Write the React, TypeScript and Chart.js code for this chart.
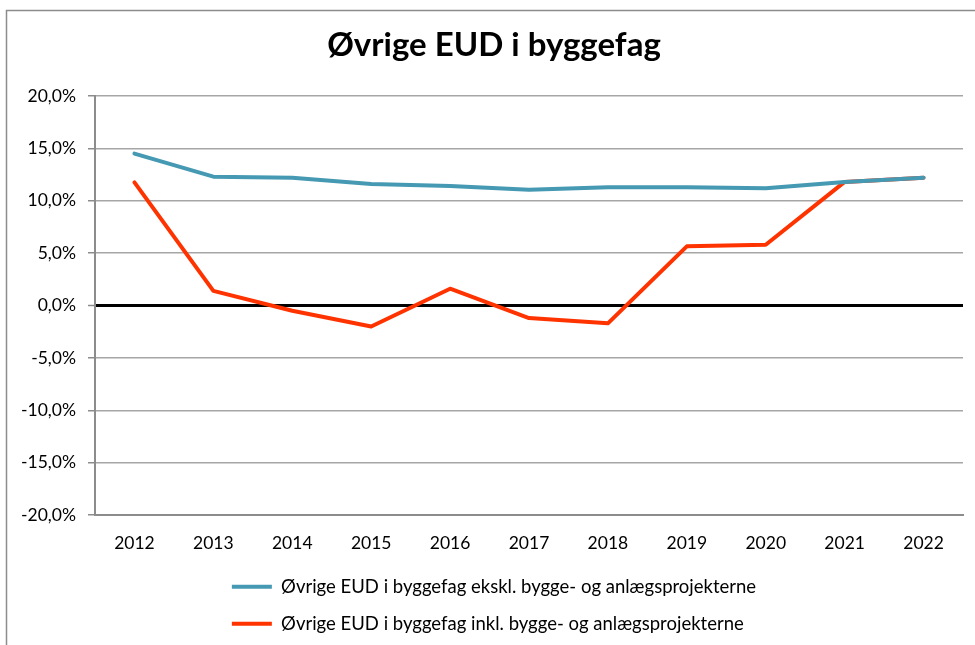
import React, { useEffect, useRef } from "react";
import { Chart, registerables } from "chart.js";

Chart.register(...registerables);

const chartTitle = "Øvrige EUD i byggefag";
const years = ["2012", "2013", "2014", "2015", "2016", "2017", "2018", "2019", "2020", "2021", "2022"];
const seriesNames = [
  "Øvrige EUD i byggefag ekskl. bygge- og anlægsprojekterne",
  "Øvrige EUD i byggefag inkl. bygge- og anlægsprojekterne",
];
const eksklValues = [14.5, 12.3, 12.2, 11.6, 11.4, 11.05, 11.3, 11.3, 11.2, 11.8, 12.2];
const inklValues = [11.75, 1.4, -0.5, -2.0, 1.6, -1.2, -1.7, 5.65, 5.8, 11.8, 12.2];
const yMin = -20;
const yMax = 20;
const yStep = 5;

const FONT = "Lato, 'Open Sans', sans-serif";

const framePlugin = {
  id: "frame",
  beforeDraw(chart: any) {
    const ctx = chart.ctx;
    ctx.save();
    ctx.fillStyle = "#ffffff";
    ctx.fillRect(0, 0, chart.width, chart.height);
    ctx.strokeStyle = "#8c8c8c";
    ctx.lineWidth = 1.5;
    ctx.strokeRect(6.5, 10.5, chart.width + 50, chart.height + 50);
    ctx.restore();
  },
};

// Centre title and legend over the plot like the reference, and left-align the legend rows
const shiftPlugin = {
  id: "shiftBlocks",
  afterLayout(chart: any) {
    if (chart.titleBlock) chart.titleBlock.left += 18;
    const lg = chart.legend;
    if (lg) {
      lg.left += 18;
      if (lg.lineWidths && lg.lineWidths.length > 1) {
        const w = Math.max(...lg.lineWidths);
        for (let i = 0; i < lg.lineWidths.length; i++) lg.lineWidths[i] = w;
      }
    }
  },
};

export default function App() {
  const canvasRef = useRef<HTMLCanvasElement | null>(null);

  useEffect(() => {
    if (!canvasRef.current) return;
    const chart = new Chart(canvasRef.current, {
      type: "line",
      data: {
        labels: years,
        datasets: [
          {
            label: seriesNames[0],
            data: eksklValues,
            borderColor: "#4599b2",
            backgroundColor: "#4599b2",
            borderWidth: 4,
            pointRadius: 0,
            tension: 0,
            borderCapStyle: "round",
            borderJoinStyle: "round",
          },
          {
            label: seriesNames[1],
            data: inklValues,
            borderColor: "#ff3300",
            backgroundColor: "#ff3300",
            borderWidth: 4,
            pointRadius: 0,
            tension: 0,
            borderCapStyle: "round",
            borderJoinStyle: "round",
          },
        ],
      },
      plugins: [framePlugin, shiftPlugin],
      options: {
        animation: false,
        responsive: false,
        maintainAspectRatio: false,
        devicePixelRatio: 1,
        layout: { padding: { left: 7, right: 12, top: 10, bottom: 2 } },
        plugins: {
          title: {
            display: true,
            text: chartTitle,
            color: "#000000",
            font: { family: FONT, size: 33, weight: "bold" },
            padding: { top: 16, bottom: 30.4 },
          },
          legend: {
            display: true,
            position: "bottom",
            labels: {
              color: "#000000",
              font: { family: FONT, size: 18.5 },
              usePointStyle: true,
              pointStyle: "line",
              pointStyleWidth: 40,
              padding: 18.5,
            },
          },
          tooltip: { enabled: false },
        },
        scales: {
          x: {
            offset: true,
            grid: { display: false, drawTicks: false, offset: true },
            border: { display: true, color: "#8c8c8c", width: 2 },
            ticks: {
              color: "#000000",
              font: { family: FONT, size: 17.5 },
              padding: 18,
              maxRotation: 0,
              autoSkip: false,
            },
            afterFit: (axis: any) => {
              axis.height = 44;
            },
          },
          y: {
            min: yMin,
            max: yMax,
            grid: {
              color: (c: any) => (c.tick && c.tick.value === 0 ? "#000000" : "#a6a6a6"),
              lineWidth: (c: any) => (c.tick && c.tick.value === 0 ? 3 : 1.5),
              tickColor: "#8c8c8c",
              tickLength: 7,
              tickWidth: 1.5,
            },
            border: { display: true, color: "#8c8c8c", width: 2 },
            ticks: {
              stepSize: yStep,
              color: "#000000",
              font: { family: FONT, size: 17.5 },
              padding: 12,
              callback: (v: any) => Number(v).toFixed(1).replace(".", ",") + "%",
            },
            afterFit: (axis: any) => {
              axis.width = 88;
            },
          },
        },
      },
    });
    return () => chart.destroy();
  }, []);

  return (
    <div style={{ position: "fixed", left: 0, top: 0, width: 975, height: 645, background: "#fff" }}>
      <canvas ref={canvasRef} width={975} height={645} style={{ width: 975, height: 645, display: "block" }} />
    </div>
  );
}
